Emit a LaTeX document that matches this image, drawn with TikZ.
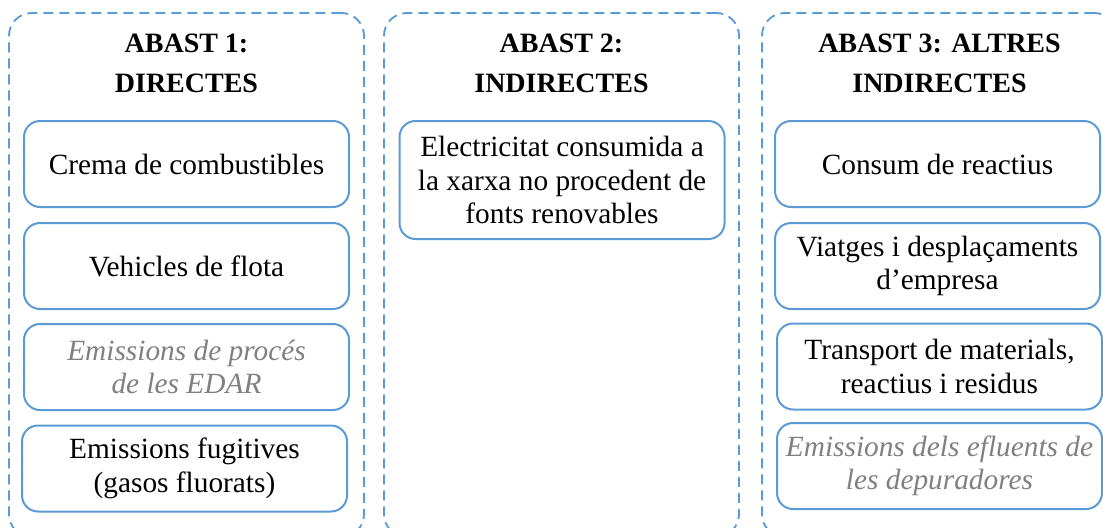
\documentclass[tikz,border=0pt]{standalone}
\usepackage{fontspec}
\setmainfont{Liberation Serif}
\usepackage{tikz}
\usetikzlibrary{positioning, calc}

\definecolor{abastblue}{RGB}{91,155,213}
\definecolor{notegray}{RGB}{128,128,128}

\begin{document}
\begin{tikzpicture}[
        x=0.75pt, y=-0.75pt,
        scopebox/.style={draw=abastblue, line width=1.4pt, dash pattern=on 7.5pt off 4.5pt,
            rounded corners=17pt, minimum width=355*0.75pt, minimum height=524*0.75pt,
            inner sep=0pt},
        itembox/.style={draw=abastblue, line width=1.5pt, rounded corners=12pt, fill=white,
            minimum width=325*0.75pt, minimum height=86*0.75pt, inner sep=2pt,
            align=center, font=\fontsize{22}{25}\selectfont},
        notebox/.style={itembox, text=notegray, font=\fontsize{22}{25}\selectfont\itshape},
        titletext/.style={align=center, anchor=base, font=\fontsize{21}{30}\selectfont\bfseries},
    ]
    \clip (0,0) rectangle (1103,528);

    %% ---- Column 1: Abast 1 ----
    \node[scopebox] (col1) at (186.5, 275) {};
    \node[titletext] (title1) at (186.5, 93) {ABAST 1:\\DIRECTES};
    \node[itembox] (crema)    at (186.5, 164)   {Crema de combustibles};
    \node[itembox] (vehicles) at (186.5, 266)   {Vehicles de flota};
    \node[notebox] (proces)   at (186.5, 367)   {Emissions de procés\\de les EDAR};
    \node[itembox] (fugitives) at (184.5, 468.5) {Emissions fugitives\\(gasos fluorats)};

    %% ---- Column 2: Abast 2 ----
    \node[scopebox] (col2) at (561.5, 275) {};
    \node[titletext] (title2) at (561.5, 93) {ABAST 2:\\INDIRECTES};
    \node[itembox, minimum height=118*0.75pt] (electricitat) at (562, 180)
        {Electricitat consumida a\\la xarxa no procedent de\\fonts renovables};

    %% ---- Column 3: Abast 3 ----
    \node[scopebox] (col3) at (939.5, 275) {};
    \node[titletext] (title3) at (939.5, 93) {ABAST 3: ALTRES\\INDIRECTES};
    \node[itembox] (reactius)  at (937.5, 164)   {Consum de reactius};
    \node[itembox] (viatges)   at (937.5, 266)   {Viatges i desplaçaments\\d’empresa};
    \node[itembox] (transport) at (939.5, 366.5) {Transport de materials,\\reactius i residus};
    \node[notebox] (efluents)  at (939.5, 466)   {Emissions dels efluents de\\les depuradores};

\end{tikzpicture}
\end{document}
